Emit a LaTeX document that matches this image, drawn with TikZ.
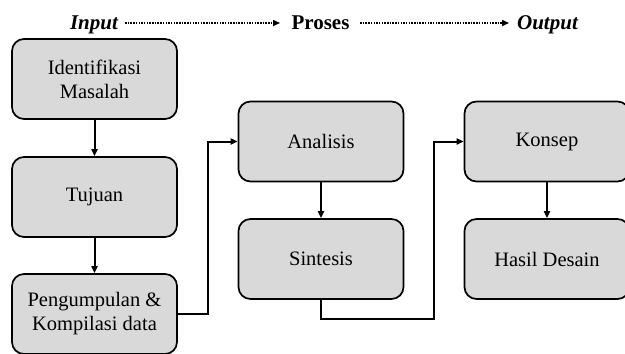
\documentclass[tikz,border=0pt]{standalone}
\usepackage{fontspec}
\setmainfont{Liberation Serif}
\usetikzlibrary{arrows.meta}
\definecolor{boxgray}{HTML}{D9D9D9}
\tikzset{
  stepbox/.style={draw=black, line width=1.7pt, fill=boxgray, rounded corners=12pt,
    minimum width=165pt, minimum height=80pt, inner sep=0pt, align=center,
    font=\fontsize{20.5}{24}\selectfont},
  conn/.style={line width=2pt, -{Triangle[length=7pt,width=6pt]}},
  head/.style={font=\fontsize{21}{24}\selectfont\bfseries, inner sep=0pt, anchor=base},
  dotarrow/.style={line width=1.5pt, dash pattern=on 1.5pt off 1.2pt, -{Triangle[length=7pt,width=6pt]}}
}
\begin{document}
\begin{tikzpicture}[x=1pt,y=-1pt]
\useasboundingbox (0,0) rectangle (625,354);
\clip (0,0) rectangle (625,354);
\fill[white] (0,0) rectangle (625,354);
% header
\node[head] (hin) at (94,29) {\itshape Input};
\node[head] (hpr) at (320.5,29) {Proses};
\node[head] (hout) at (547.5,29) {\itshape Output};
\coordinate (d1s) at (125,23);
\coordinate (d1e) at (280,23);
\coordinate (d2s) at (360,23);
\coordinate (d2e) at (509,23);
\draw[dotarrow] (d1s) -- (d1e);
\draw[dotarrow] (d2s) -- (d2e);
% boxes
\node[stepbox] (b1) at (94.5,79) {Identifikasi\\Masalah};
\node[stepbox] (b2) at (94.5,197) {Tujuan};
\node[stepbox] (b3) at (94.5,314) {Pengumpulan \&\\Kompilasi data};
\node[stepbox] (an) at (321,141.5) {Analisis};
\node[stepbox] (si) at (321,259) {Sintesis};
\node[stepbox] (ko) at (547,141.5) {Konsep};
\node[stepbox] (hd) at (547,259) {Hasil Desain};
% connectors
\draw[conn] (b1) -- (b2);
\draw[conn] (b2) -- (b3);
\draw[conn] (an) -- (si);
\draw[conn] (ko) -- (hd);
\draw[conn] (b3.east) -- ++(30,0) |- (an.west);
\coordinate (sk) at (434,319);
\draw[conn] (si.south) |- (sk) |- (ko.west);
\end{tikzpicture}
\end{document}
